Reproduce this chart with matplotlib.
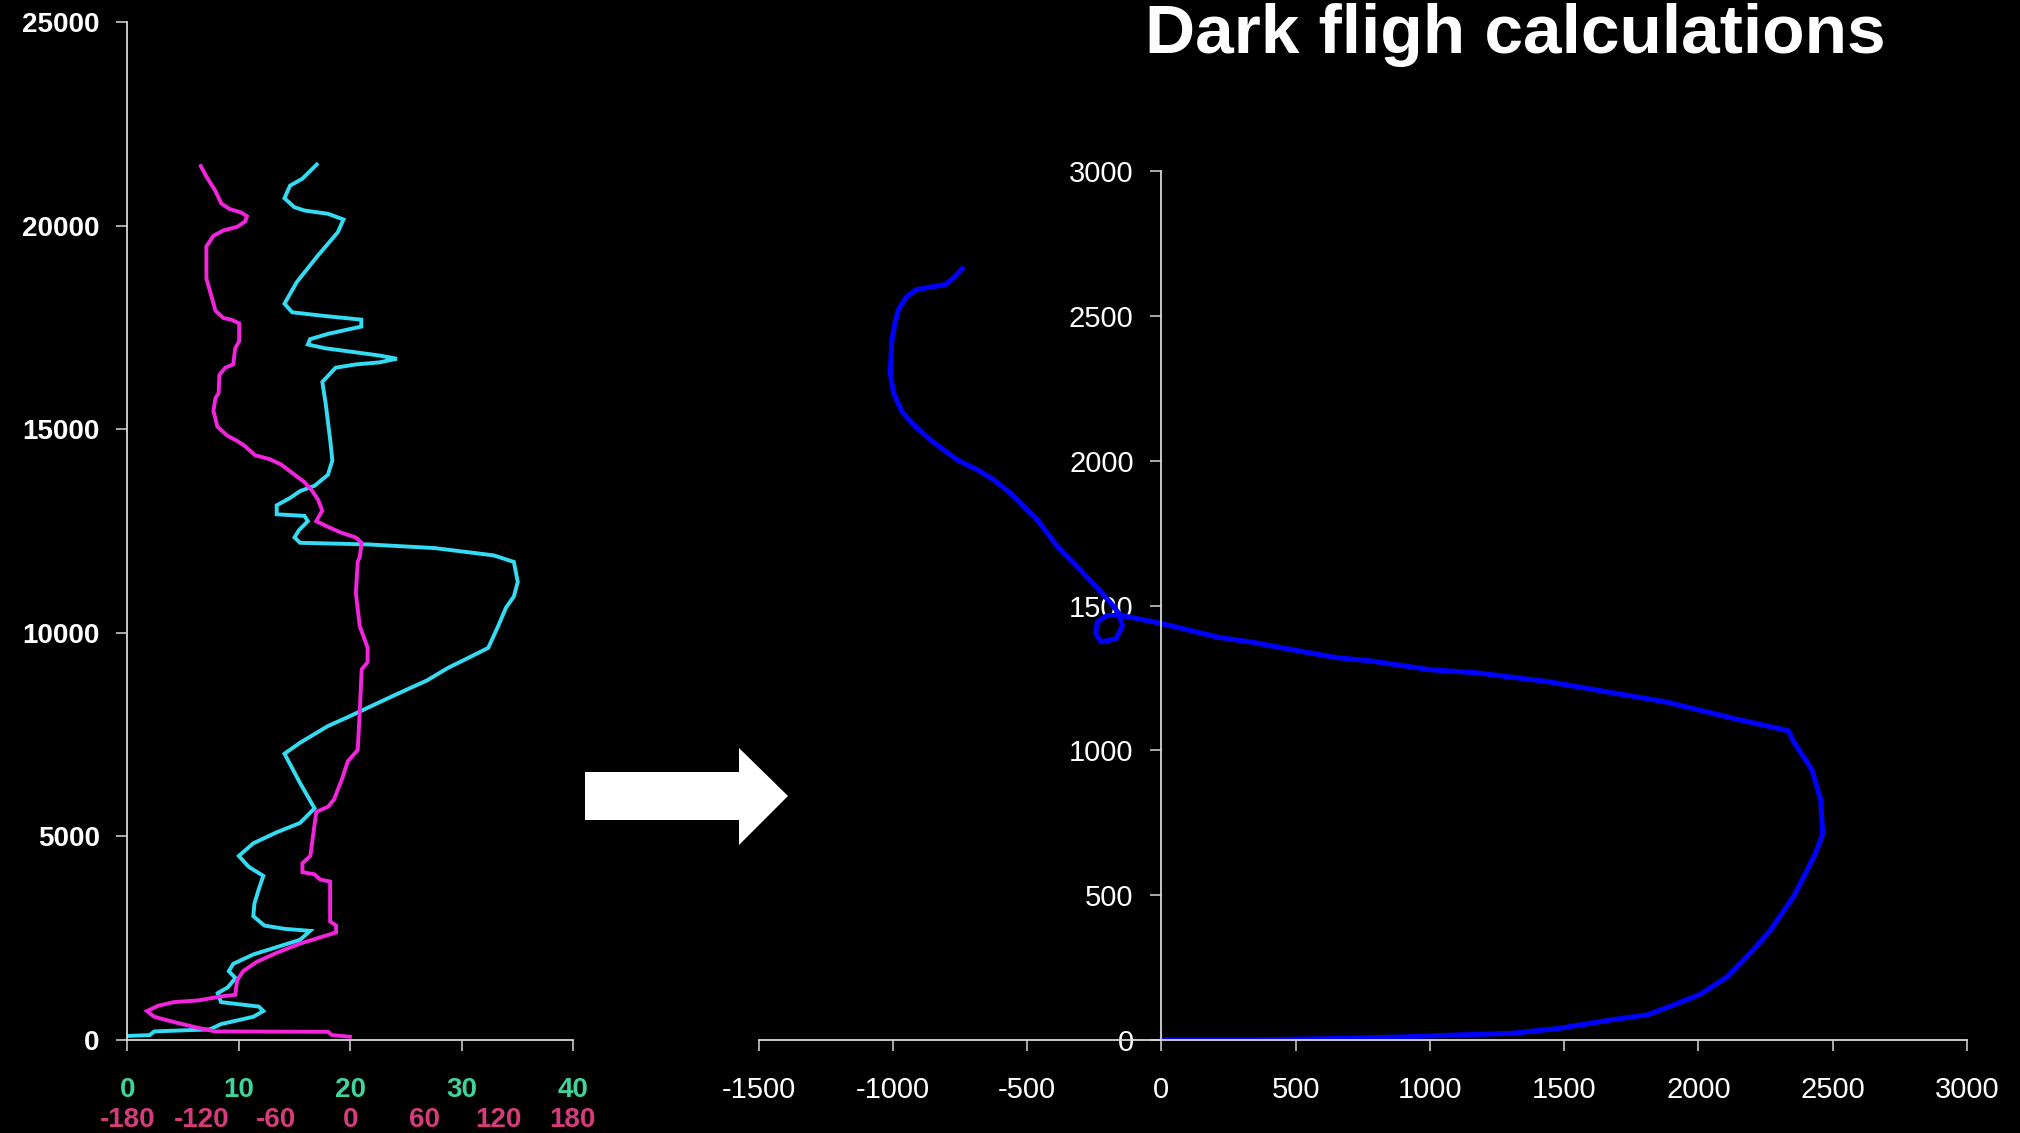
import matplotlib
matplotlib.use('Agg')
import matplotlib.pyplot as plt
from matplotlib.patches import Polygon
import numpy as np

plt.rcParams['font.family'] = ['Liberation Sans', 'DejaVu Sans']

# wind profile: speed (m/s) vs altitude (m)
speed_alt = [21500, 21150, 20980, 20670, 20450, 20370, 20290, 20150, 19840, 19230,
             18610, 18080, 17870, 17780, 17690, 17520, 17340, 17210, 17080, 16990,
             16810, 16730, 16640, 16590, 16510, 16160, 15630, 14750, 14230, 13880,
             13610, 13480, 13310, 13130, 12910, 12870, 12740, 12520, 12340, 12210,
             12170, 12080, 11900, 11740, 11250, 10890, 10620, 10170, 9810, 9630,
             9410, 9140, 8830, 8470, 8110, 7930, 7710, 7300, 7030, 6310,
             5690, 5330, 5100, 4830, 4520, 4250, 4030, 3710, 3350, 3040,
             2810, 2730, 2680, 2460, 2280, 2100, 1870, 1690, 1520, 1290,
             1150, 930, 820, 710, 570, 390, 260, 210, 120, 100]
speed = [17.0, 15.7, 14.6, 14.1, 15.0, 15.9, 18.0, 19.4, 18.9, 17.0,
         15.2, 14.1, 14.8, 17.7, 21.0, 21.0, 18.0, 16.4, 16.2, 17.7,
         22.6, 24.2, 22.6, 20.5, 18.7, 17.5, 17.8, 18.2, 18.4, 18.0,
         16.8, 15.5, 14.6, 13.4, 13.4, 15.9, 16.2, 15.4, 15.0, 15.5,
         21.6, 27.6, 32.9, 34.7, 35.05, 34.7, 34.0, 33.3, 32.7, 32.4,
         30.8, 28.8, 26.9, 24.0, 21.2, 19.8, 18.0, 15.5, 14.1, 15.5,
         16.8, 15.5, 13.4, 11.3, 10.0, 10.9, 12.2, 11.8, 11.4, 11.3,
         12.3, 14.1, 16.4, 15.5, 13.4, 11.3, 9.5, 9.1, 9.7, 9.0,
         8.1, 8.4, 11.8, 12.2, 11.3, 8.4, 7.4, 2.4, 2.0, 0.1]

# wind direction (deg) vs altitude (m)
dir_alt = [21460, 21240, 20850, 20540, 20410, 20320, 20230, 20100, 19970, 19880,
           19750, 19490, 18700, 18260, 17910, 17730, 17690, 17600, 17160, 16990,
           16590, 16510, 16330, 15890, 15760, 15450, 15060, 14840, 14710, 14580,
           14360, 14270, 14140, 13920, 13700, 13480, 13260, 13000, 12740, 12600,
           12470, 12340, 12210, 11860, 11740, 10980, 10170, 9630, 9280, 9100,
           8020, 7120, 6850, 6400, 5910, 5730, 5600, 5240, 4520, 4340,
           4120, 4070, 3940, 3890, 2910, 2810, 2640, 2550, 2370, 2140,
           1920, 1690, 1470, 1110, 1070, 970, 930, 840, 710, 570,
           440, 300, 210, 200, 120, 80]
direction = [-120.7, -116.9, -108.9, -104.1, -97.7, -88.1, -83.4, -84.9, -91.3, -102.5,
             -110.5, -116.2, -116.2, -112.1, -108.9, -102.5, -96.1, -89.7, -89.7, -92.9,
             -94.5, -100.9, -105.7, -106.3, -108.9, -110.5, -107.3, -99.3, -91.3, -84.9,
             -76.9, -65.7, -56.2, -46.6, -37.0, -30.6, -25.8, -22.6, -27.4, -17.8,
             -8.2, 4.6, 9.3, 7.7, 6.1, 4.6, 7.7, 14.1, 14.1, 9.3,
             7.7, 6.1, -1.8, -6.7, -13.0, -17.8, -27.4, -29.0, -32.2, -38.6,
             -38.6, -29.0, -24.2, -16.2, -16.2, -11.4, -11.4, -21.0, -40.2, -59.4,
             -75.4, -86.5, -91.3, -92.9, -104.1, -123.3, -142.4, -155.2, -164.2, -158.4,
             -142.4, -123.3, -108.9, -17.8, -14.7, -0.2]

# dark flight trajectory: horizontal distance (m) vs height (m)
traj_x = [-743, -774, -805, -861, -911, -948, -980, -992, -1004, -1010,
          -998, -967, -924, -861, -762, -687, -625, -563, -463, -388,
          -314, -233, -185, -160, -145, -170, -225, -245, -238, -205,
          -160, -125, 3, 211, 343, 474, 649, 781, 999, 1175,
          1437, 1656, 1876, 2138, 2335, 2357, 2423, 2456, 2463, 2434,
          2357, 2270, 2204, 2106, 2007, 1897, 1810, 1679, 1481, 1306,
          1087, 912, 649, 321, 0]
traj_h = [2663, 2632, 2609, 2600, 2592, 2568, 2522, 2477, 2419, 2304,
          2235, 2171, 2125, 2073, 2004, 1970, 1935, 1889, 1797, 1705,
          1635, 1555, 1505, 1475, 1430, 1385, 1375, 1405, 1445, 1465,
          1468, 1462, 1438, 1391, 1373, 1350, 1321, 1309, 1279, 1268,
          1238, 1203, 1168, 1109, 1068, 1027, 933, 828, 710, 640,
          499, 381, 311, 217, 158, 117, 87, 70, 40, 23,
          17, 11, 5, 0, 0]

speed_ticks = [0, 10, 20, 30, 40]
dir_ticks = [-180, -120, -60, 0, 60, 120, 180]
alt_ticks = [0, 5000, 10000, 15000, 20000, 25000]
traj_xticks = [-1500, -1000, -500, 0, 500, 1000, 1500, 2000, 2500, 3000]
traj_yticks = [0, 500, 1000, 1500, 2000, 2500, 3000]

axis_col = '#d8d8d8'
fig = plt.figure(figsize=(20.2, 11.33), dpi=100, facecolor='black')

# left: wind profile
ax = fig.add_axes([0.0631, 0.0821, 0.2205, 0.8985], facecolor='black')
ax.plot(speed, speed_alt, color='#33dcf2', lw=2.8, solid_joinstyle='miter')
ax.set_xlim(0, 40)
ax.set_ylim(0, 25000)
ax.set_xticks(speed_ticks)
ax.set_yticks(alt_ticks)
ax.set_xticklabels([str(t) for t in speed_ticks], color='#3fd49a', fontsize=20, fontweight='bold')
ax.set_yticklabels([str(t) for t in alt_ticks], color='white', fontsize=20, fontweight='bold')
for s in ['top', 'right']:
    ax.spines[s].set_visible(False)
for s in ['left', 'bottom']:
    ax.spines[s].set_color(axis_col)
    ax.spines[s].set_linewidth(1.3)
ax.tick_params(axis='x', direction='out', length=8, width=1.1, color=axis_col, pad=19)
ax.tick_params(axis='y', direction='out', length=8, width=1.1, color=axis_col, pad=12)

ax2 = ax.twiny()
ax2.plot(direction, dir_alt, color='#f224dc', lw=2.8, solid_joinstyle='miter')
ax2.set_xlim(-180, 180)
ax2.set_xticks(dir_ticks)
ax2.set_xticklabels([str(t) for t in dir_ticks], color='#d63c7c', fontsize=20, fontweight='bold')
ax2.xaxis.set_ticks_position('bottom')
ax2.xaxis.set_label_position('bottom')
for s in ax2.spines.values():
    s.set_visible(False)
ax2.tick_params(axis='x', length=0, pad=48)

# right: trajectory
ax3 = fig.add_axes([0.3756, 0.0821, 0.5981, 0.7667], facecolor='black')
ax3.spines['left'].set_position(('data', 0))
ax3.plot(traj_x, traj_h, color='#0000ff', lw=3.6)
ax3.set_xlim(-1500, 3000)
ax3.set_ylim(0, 3000)
ax3.set_xticks(traj_xticks)
ax3.set_yticks(traj_yticks)
ax3.set_xticklabels([str(t) for t in traj_xticks])
ax3.set_yticklabels([str(t) for t in traj_yticks])
for s in ['top', 'right']:
    ax3.spines[s].set_visible(False)
for s in ['left', 'bottom']:
    ax3.spines[s].set_color(axis_col)
    ax3.spines[s].set_linewidth(1.3)
ax3.tick_params(axis='x', direction='out', length=8, width=1.1, color=axis_col,
                labelcolor='white', labelsize=21, pad=18)
ax3.tick_params(axis='y', direction='out', length=8, width=1.1, color=axis_col,
                labelcolor='white', labelsize=21, pad=12)

# block arrow between the panels
W, H = 2020.0, 1133.0
arrow_px = [(585, 772), (739, 772), (739, 748), (788, 796), (739, 845), (739, 820), (585, 820)]
fig.add_artist(Polygon([(x / W, 1 - y / H) for x, y in arrow_px], closed=True,
                       facecolor='white', edgecolor='none', transform=fig.transFigure))

fig.text(0.750, 0.9532, 'Dark fligh calculations', color='white', fontsize=50,
         fontweight='bold', ha='center', va='baseline',
         family=['Liberation Sans Narrow', 'Liberation Sans', 'DejaVu Sans'])

fig.savefig('out.png', dpi=100, facecolor='black')
